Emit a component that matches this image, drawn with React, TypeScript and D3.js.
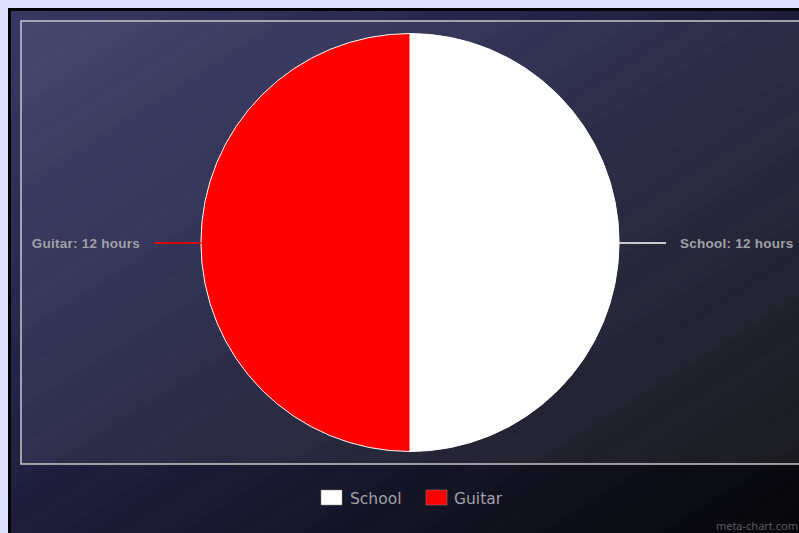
import React from "react";
import * as d3 from "d3";

const categories = ["School", "Guitar"];
const values = [12, 12];
const colors = ["#ffffff", "#ff0000"];
const unit = "hours";

const W = 799;
const H = 533;

export default function App() {
  const cx = 410;
  const cy = 242.5;
  const r = 209;
  const pie = d3.pie<number>().sort(null).value((d) => d);
  const arcs = pie(values);
  const arcGen = d3.arc<d3.PieArcDatum<number>>().innerRadius(0).outerRadius(r);
  const stripes = d3.range(-12, 20);

  return (
    <svg width={W} height={H} style={{ position: "absolute", left: 0, top: 0 }}>
      <defs>
        <linearGradient id="bg" x1="0" y1="0" x2="1" y2="1">
          <stop offset="0" stopColor="#383866" />
          <stop offset="0.35" stopColor="#232348" />
          <stop offset="0.75" stopColor="#121222" />
          <stop offset="1" stopColor="#050508" />
        </linearGradient>
        <clipPath id="panelClip">
          <rect x={11} y={11} width={W - 11} height={H - 11} />
        </clipPath>
      </defs>
      <rect x={0} y={0} width={W} height={H} fill="#e0e0ff" />
      <rect x={8} y={8} width={W - 8} height={H - 8} fill="#000" />
      <rect x={11} y={11} width={W - 11} height={H - 11} fill="url(#bg)" />
      <g clipPath="url(#panelClip)">
        {stripes.map((i) => (
          <path
            key={i}
            d={`M${i * 60},${H} L${i * 60 + 60},${H} L${i * 60 + 60 + H * 1.6},0 L${i * 60 + H * 1.6},0 Z`}
            fill="#ffffff"
            opacity={i % 2 === 0 ? 0.012 : 0}
          />
        ))}
      </g>
      <rect x={21} y={21} width={W} height={443} fill="#ffffff" fillOpacity={0.07} stroke="#c8c8c8" strokeWidth={1.5} />
      <g transform={`translate(${cx},${cy})`}>
        {arcs.map((a, i) => (
          <path key={categories[i]} d={arcGen(a) || ""} fill={colors[i]} stroke="#ffffff" strokeWidth={1} />
        ))}
      </g>
      {arcs.map((a, i) => {
        const mid = (a.startAngle + a.endAngle) / 2;
        const dir = Math.sin(mid) >= 0 ? 1 : -1;
        const x0 = cx + dir * r;
        const x1 = cx + dir * (r + 47);
        const y = cy + 0.5;
        return (
          <g key={"l" + i}>
            <line x1={x0} y1={y} x2={x1} y2={y} stroke={colors[i]} strokeWidth={1.5} />
            <text
              x={x1 + dir * 14}
              y={y + 5}
              textAnchor={dir > 0 ? "start" : "end"}
              fontFamily="'Liberation Sans', Arial, sans-serif"
              fontWeight="bold"
              fontSize={13.5}
              letterSpacing={0.25}
              fill="#a0a0a8"
            >
              {`${categories[i]}: ${values[i]} ${unit}`}
            </text>
          </g>
        );
      })}
      {(() => {
        const items = [
          { x: 321, tx: 350 },
          { x: 426, tx: 454 },
        ];
        return categories.map((c, i) => (
          <g key={"lg" + i}>
            <rect x={items[i].x} y={490} width={21} height={15} fill={colors[i]} stroke="#888" strokeWidth={0.5} />
            <text x={items[i].tx} y={503.5} fontFamily="'DejaVu Sans', sans-serif" fontSize={15.5} fill="#a0a0a8">
              {c}
            </text>
          </g>
        ));
      })()}
      <text x={798} y={530} textAnchor="end" fontFamily="'Noto Sans', sans-serif" fontSize={11} fill="#5a5a60">
        meta-chart.com
      </text>
    </svg>
  );
}
